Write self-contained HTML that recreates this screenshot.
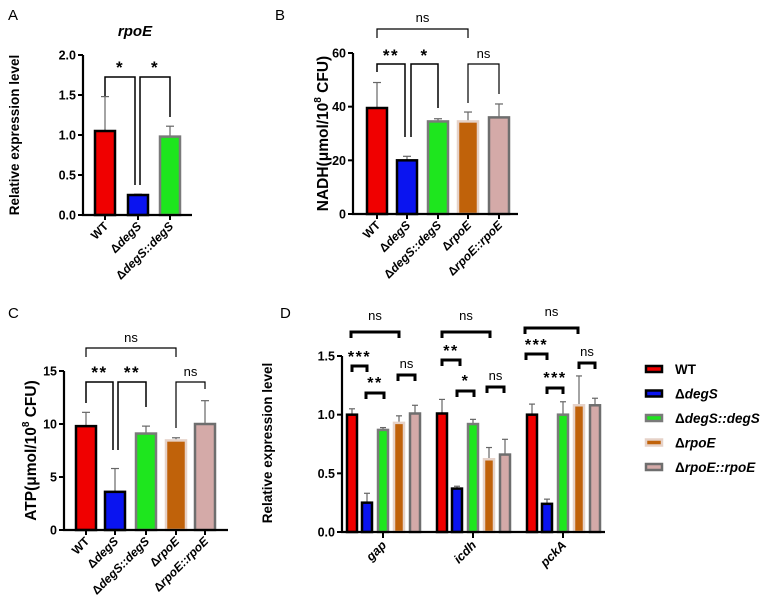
<!DOCTYPE html>
<html><head><meta charset="utf-8">
<style>
html,body{margin:0;padding:0;background:#fff;}
svg{display:block;font-family:"Liberation Sans",Arial,sans-serif;}
text{font-weight:bold;}
</style></head>
<body>
<svg id="c" width="767" height="604" viewBox="0 0 767 604" xmlns="http://www.w3.org/2000/svg"></svg>
<script>
// ---- data ----
const aCats = ["WT","ΔdegS","ΔdegS::degS"];
const aVals = [1.05,0.25,0.98];
const aErr = [1.48,0.26,1.11];
const aTicks = [0,0.5,1.0,1.5,2.0];
const aTickLabels = ["0.0","0.5","1.0","1.5","2.0"];

const bCats = ["WT","ΔdegS","ΔdegS::degS","ΔrpoE","ΔrpoE::rpoE"];
const bVals = [39.5,20,34.5,34.5,36];
const bErr = [49,21.5,35.5,38,41];
const bTicks = [0,20,40,60];

const cCats = ["WT","ΔdegS","ΔdegS::degS","ΔrpoE","ΔrpoE::rpoE"];
const cVals = [9.8,3.6,9.1,8.45,10];
const cErr = [11.1,5.8,9.8,8.7,12.2];
const cTicks = [0,5,10,15];

const dGenes = ["gap","icdh","pckA"];
const dWT = [1.0,1.01,1.0];
const dDegS = [0.25,0.37,0.24];
const dDegSComp = [0.87,0.92,1.0];
const dRpoE = [0.93,0.62,1.08];
const dRpoEComp = [1.01,0.66,1.08];
const dWTErr = [1.05,1.13,1.09];
const dDegSErr = [0.33,0.39,0.28];
const dDegSCompErr = [0.89,0.96,1.11];
const dRpoEErr = [0.99,0.72,1.33];
const dRpoECompErr = [1.08,0.79,1.14];
const dTicks = [0,0.5,1.0,1.5];
const dTickLabels = ["0.0","0.5","1.0","1.5"];
const legendLabels = ["WT","ΔdegS","ΔdegS::degS","ΔrpoE","ΔrpoE::rpoE"];

const fills = ["#f00000","#0a14f0","#1ee61e","#c0620a","#d4aaa8"];
const strokes = ["#000","#000","#7a7a7a","#e6d2c8","#6e6e6e"];

const svg = document.getElementById('c');
const NS = "http://www.w3.org/2000/svg";
function mk(tag, attrs, parent){const e=document.createElementNS(NS,tag);for(const k in attrs)e.setAttribute(k,attrs[k]);(parent||svg).appendChild(e);return e;}
function txt(s, attrs, parent){const e=mk('text',attrs,parent);e.textContent=s;return e;}

// letters
[["A",8,20],["B",275,20],["C",8,318],["D",280,318]].forEach(l=>{
  const t=txt(l[0],{x:l[1],y:l[2],'font-size':15,'font-weight':'normal',style:'font-weight:normal'});
  
  
});

function axisPanel(name, x0, x1, yTop, yBot, vmax, ticks, tickLabels, cats, centers, vals, errs, barW, ylab, ylabX){
  const g=mk('g',{});
  
  
  const y=v=>yBot-(v/vmax)*(yBot-yTop);
  vals.forEach((v,i)=>{
    const cx=centers[i];
    const eb=mk('line',{x1:cx,x2:cx,y1:y(errs[i]),y2:y(v),stroke:'#666','stroke-width':1.2},g);
    
    
    const cap=mk('line',{x1:cx-4,x2:cx+4,y1:y(errs[i]),y2:y(errs[i]),stroke:'#666','stroke-width':1.2},g);
    
    
    const r=mk('rect',{x:cx-barW/2,y:y(v),width:barW,height:yBot-y(v),fill:fills[i],stroke:strokes[i],'stroke-width':2.5},g);
    
    
  });
  const ax=mk('path',{d:`M${x0},${y(vmax)}V${yBot}H${x1}`,fill:'none',stroke:'#000','stroke-width':2.2},g);
  
  
  ticks.forEach((t,i)=>{
    mk('line',{x1:x0-5,x2:x0,y1:y(t),y2:y(t),stroke:'#000','stroke-width':2},g);
    const tl=txt(tickLabels[i],{x:x0-7,y:y(t)+4.5,'font-size':12.5,'text-anchor':'end'},g);
    
    
  });
  cats.forEach((c,i)=>{
    mk('line',{x1:centers[i],x2:centers[i],y1:yBot,y2:yBot+5,stroke:'#000','stroke-width':2},g);
    const tx=centers[i]+4, ty=yBot+12;
    const t=txt('',{x:tx,y:ty,'font-size':12,'text-anchor':'end',transform:`rotate(-45 ${tx} ${ty})`},g);
    
    
    if(c==="WT"){t.textContent=c;}
    else{
      const s1=document.createElementNS(NS,'tspan');s1.textContent='Δ';t.appendChild(s1);
      const s2=document.createElementNS(NS,'tspan');s2.setAttribute('font-style','italic');s2.textContent=c.slice(1);t.appendChild(s2);
    }
  });
  const yl=txt('',{x:ylabX,y:(yTop+yBot)/2,'font-size':ylab.size,'text-anchor':'middle',transform:`rotate(-90 ${ylabX} ${(yTop+yBot)/2})`},g);
  
  
  ylab.parts.forEach(p=>{const s=document.createElementNS(NS,'tspan');s.textContent=p[0];if(p[1])s.setAttribute('dy',p[1]);if(p[2])s.setAttribute('font-size',p[2]);yl.appendChild(s);});
  return {g,y};
}
function bracket(g,x1,x2,top,l1,l2,label,ly,w,fs){
  const p=mk('path',{d:`M${x1},${l1}V${top}H${x2}V${l2}`,fill:'none',stroke:'#000','stroke-width':w||1.5},g);
  
  
  const isNs=label==='ns';
  const t=txt(label,{x:(x1+x2)/2,y:ly,'font-size':isNs?13:(fs||17),'text-anchor':'middle','font-weight':isNs?'normal':'bold',style:isNs?'font-weight:normal':'letter-spacing:1.5px'},g);
  
  
}

// Panel A
const A=axisPanel('panel-a-chart',83,192,55,215,2.0,aTicks,aTickLabels,aCats,[105,138,170],aVals,aErr,20,{size:13.5,parts:[["Relative expression level"]]},19);
const at=txt('rpoE',{x:135,y:36,'font-size':15,'text-anchor':'middle','font-style':'italic'},A.g);


bracket(A.g,105,135,77,96,185,'*',73);
bracket(A.g,140,170,77,185,117,'*',73);

// Panel B
const B=axisPanel('panel-b-chart',353,518,53,214,60,bTicks,bTicks.map(String),bCats,[377,407,438,468,499],bVals,bErr,20,{size:15.5,parts:[["NADH(μmol/10"],["8",-7,10],[" CFU)",7]]},328);
bracket(B.g,377,468,29,38,38,'ns',22,1.2);
bracket(B.g,377,405,64,72,137,'**',61);
bracket(B.g,411,438,64,137,108,'*',61);
bracket(B.g,468,499,64,103,94,'ns',58,1.2);

// Panel C
const C=axisPanel('panel-c-chart',64,228,371,530,15,cTicks,cTicks.map(String),cCats,[86,115,146,176,205],cVals,cErr,20,{size:15.5,parts:[["ATP(μmol/10"],["8",-7,10],[" CFU)",7]]},36);
bracket(C.g,86,176,348,357,357,'ns',342,1.2);
bracket(C.g,86,113,382,403,450,'**',378);
bracket(C.g,118,146,382,450,407,'**',378);
bracket(C.g,176,205,382,428,389,'ns',376,1.2);

// Panel D
(function(){
  const g=mk('g',{});
  
  
  const x0=342,x1=605,yTop=356,yBot=532,vmax=1.5;
  const y=v=>yBot-(v/vmax)*(yBot-yTop);
  const gc=i=>383+i*90;
  const offs=[-31,-16,0,16,32];
  const series=[dWT,dDegS,dDegSComp,dRpoE,dRpoEComp];
  const errs=[dWTErr,dDegSErr,dDegSCompErr,dRpoEErr,dRpoECompErr];
  dGenes.forEach((gn,gi)=>{
    series.forEach((s,si)=>{
      const cx=gc(gi)+offs[si];
      const e=mk('line',{x1:cx,x2:cx,y1:y(errs[si][gi]),y2:y(s[gi]),stroke:'#666','stroke-width':1.2},g);
      
      
      const c=mk('line',{x1:cx-3,x2:cx+3,y1:y(errs[si][gi]),y2:y(errs[si][gi]),stroke:'#666','stroke-width':1.2},g);
      
      
      const r=mk('rect',{x:cx-5,y:y(s[gi]),width:10,height:yBot-y(s[gi]),fill:fills[si],stroke:strokes[si],'stroke-width':2.5},g);
      
      
    });
    mk('line',{x1:gc(gi),x2:gc(gi),y1:yBot,y2:yBot+6,stroke:'#000','stroke-width':2},g);
    const tx=gc(gi)+4,ty=yBot+14;
    const t=txt(gn,{x:tx,y:ty,'font-size':12.5,'text-anchor':'end','font-style':'italic',transform:`rotate(-45 ${tx} ${ty})`},g);
    
    
  });
  const ax=mk('path',{d:`M${x0},${yTop}V${yBot}H${x1}`,fill:'none',stroke:'#000','stroke-width':2.2},g);
  
  
  dTicks.forEach((t,i)=>{
    mk('line',{x1:x0-5,x2:x0,y1:y(t),y2:y(t),stroke:'#000','stroke-width':2},g);
    const tl=txt(dTickLabels[i],{x:x0-7,y:y(t)+4.5,'font-size':12.5,'text-anchor':'end'},g);
    
    
  });
  const yl=txt('Relative expression level',{x:272,y:443,'font-size':13.5,'text-anchor':'middle',transform:'rotate(-90 272 443)'},g);
  
  
  const br=(a,b,top,lab,ly,fs)=>bracket(g,a,b,top,top+6,top+6,lab,ly,3,fs||16);
  br(351,399,332,'ns',320); br(352,367,366,'***',362); br(366,384,393,'**',388); br(398,415,375,'ns',368);
  br(442,490,332,'ns',320); br(442,460,360,'**',356); br(457,474,391,'*',386); br(487,504,387,'ns',380);
  br(525,578,328,'ns',316); br(526,547,354,'***',350); br(547,563,388,'***',383); br(579,595,363,'ns',356);
  legendLabels.forEach((l,i)=>{
    const yy=369+i*24.5;
    const r=mk('rect',{x:646,y:yy-3,width:16,height:6,fill:fills[i],stroke:strokes[i],'stroke-width':2.5},g);
    
    
    const t=txt('',{x:675,y:yy+5,'font-size':13.5},g);
    
    
    if(l==="WT")t.textContent=l;
    else{const s1=document.createElementNS(NS,'tspan');s1.textContent='Δ';t.appendChild(s1);
      const s2=document.createElementNS(NS,'tspan');s2.setAttribute('font-style','italic');s2.textContent=l.slice(1);t.appendChild(s2);}
  });
})();
</script>
</body></html>
